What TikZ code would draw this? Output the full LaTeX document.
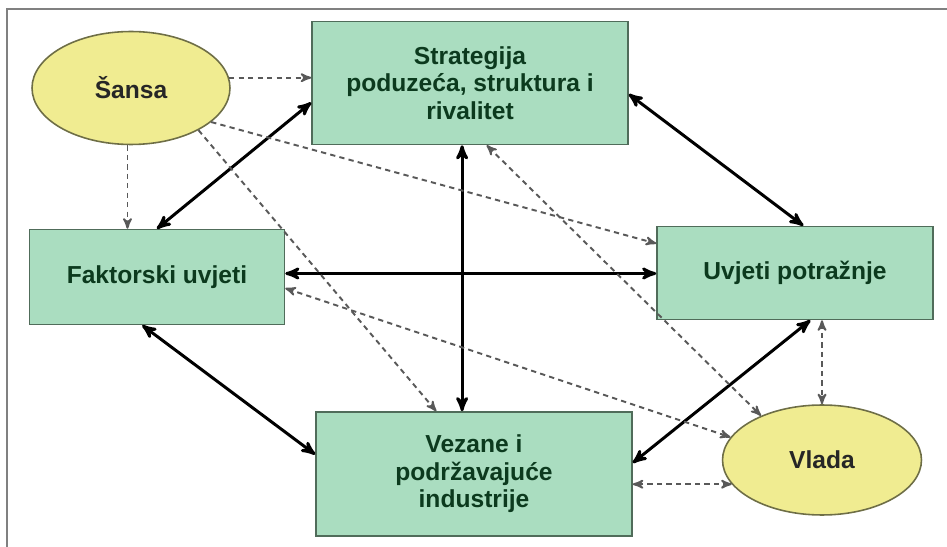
\documentclass[tikz,border=0pt]{standalone}
\usepackage{fontspec}
\setmainfont{Liberation Sans}
\usetikzlibrary{arrows}
\usetikzlibrary{shapes.geometric}

\definecolor{boxfill}{RGB}{170,221,192}
\definecolor{boxline}{RGB}{80,108,90}
\definecolor{boxtext}{RGB}{12,58,30}
\definecolor{ovalfill}{RGB}{240,236,145}
\definecolor{ovalline}{RGB}{110,110,70}

\begin{document}
\begin{tikzpicture}[x=0.02cm,y=-0.02cm,
    box/.style={draw=boxline,fill=boxfill,line width=0.9pt,align=center,
      text=boxtext,font=\bfseries\fontsize{14}{15.7}\selectfont,inner sep=0pt},
    oval/.style={ellipse,draw=ovalline,fill=ovalfill,line width=0.9pt,
      text=black!85,font=\bfseries\fontsize{14}{15.7}\selectfont,inner sep=0pt},
    strong/.style={<->,>=stealth',line width=1.7pt},
    weak/.style={->,>=stealth',black!65,line width=1.1pt,dash pattern=on 3pt off 2.4pt}]
    \useasboundingbox (0,0) rectangle (947,547);
    \draw[gray,line width=1.2pt] (7,547) -- (7,9) -- (947,9);

    \node[oval,minimum width=3.96cm,minimum height=2.26cm] (sansa) at (131,88) {Šansa};
    \node[box,minimum width=6.32cm,minimum height=2.46cm] (strat) at (470,83)
      {Strategija\\poduzeća, struktura i\\rivalitet};
    \node[box,minimum width=5.1cm,minimum height=1.9cm] (fakt) at (157,277) {Faktorski uvjeti};
    \node[box,minimum width=5.52cm,minimum height=1.86cm] (upot) at (795,273) {Uvjeti potražnje};
    \node[box,minimum width=6.32cm,minimum height=2.48cm] (vez) at (474,474)
      {Vezane i\\podržavajuće\\industrije};
    \node[oval,minimum width=3.98cm,minimum height=2.2cm] (vlada) at (822,460) {Vlada};

    % solid links
    \draw[strong] (fakt.north) -- (strat.-173);
    \draw[strong] (strat.-4) -- (upot.80);
    \draw[strong] ([xshift=-4.5pt]strat.south) -- ([xshift=-4.5pt]strat.south |- vez.north);
    \draw[strong] ([yshift=2pt]fakt.east) -- ([yshift=2pt]fakt.east -| upot.west);
    \draw[strong] (fakt.-107) -- (vez.173);
    \draw[strong] (vez.4) -- (upot.-72);

    % dashed links
    \draw[weak] (sansa.6) -- (sansa.6 -| strat.west);
    \draw[weak] ([xshift=-2pt]sansa.south) -- ([xshift=-2pt]sansa.south |- fakt.north);
    \draw[weak] (sansa.-23) -- (upot.168);
    \draw[weak] (sansa.-32) -- (vez.121);
    \draw[weak,<->] (strat.-75) -- (vlada.144);
    \draw[weak,<->] (fakt.-5) -- (vlada.166);
    \draw[weak,<->] (vlada.north |- upot.south) -- (vlada.north);
    \draw[weak,<->] (vlada.195) -- (vlada.195 -| vez.east);
  \end{tikzpicture}
\end{document}
